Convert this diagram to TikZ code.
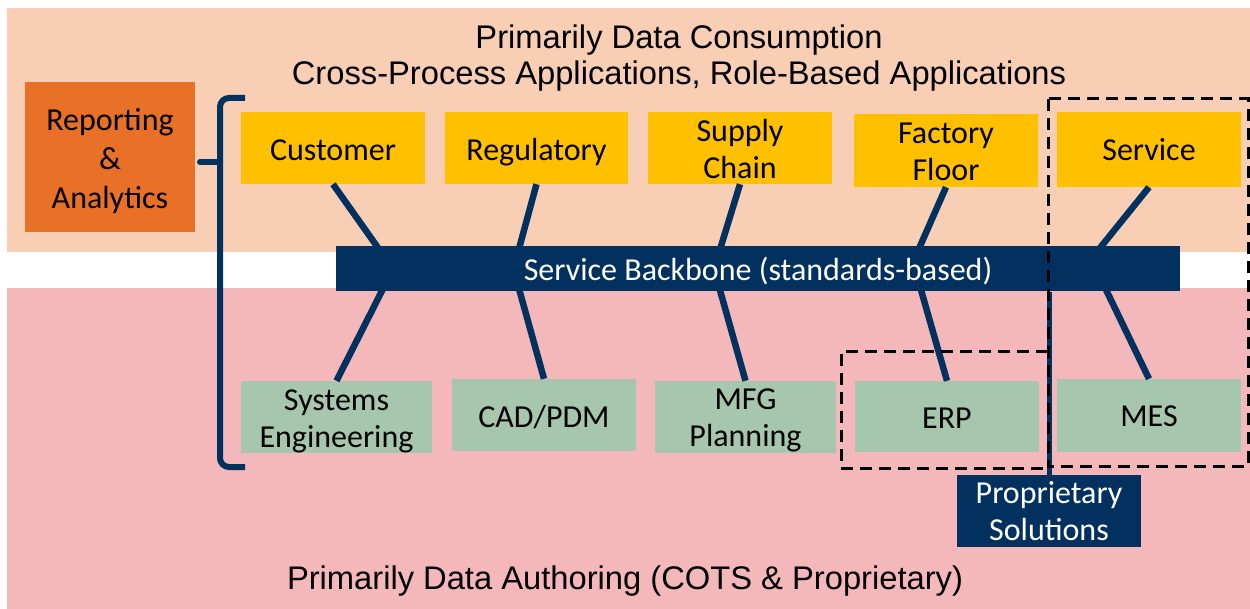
\documentclass[tikz,border=0pt]{standalone}
\usepackage{fontspec}
\setmainfont{Carlito}
\newfontfamily\arialf{Liberation Sans}
\definecolor{peach}{HTML}{F8CFB4}
\definecolor{pinkbg}{HTML}{F4B8BA}
\definecolor{orangebox}{HTML}{E97127}
\definecolor{yellowbox}{HTML}{FFC000}
\definecolor{greenbox}{HTML}{A7C6AE}
\definecolor{navy}{HTML}{03315F}
\newcommand\bt[2][-10pt]{\raisebox{#1}[0pt][0pt]{\begin{tabular}{@{}c@{}}#2\end{tabular}}}
\tikzset{
  box/.style={rectangle, inner sep=0pt, font=\fontsize{32}{37}\selectfont},
  topbox/.style={box, fill=yellowbox},
  botbox/.style={box, fill=greenbox},
  link/.style={draw=navy, line width=6.5pt},
  dashbox/.style={draw=black, line width=3pt, dash pattern=on 12pt off 7pt},
  title/.style={align=center, font=\arialf\fontsize{32.7}{36.5}\selectfont}
}
\begin{document}
\begin{tikzpicture}[x=1pt,y=-1pt]
\useasboundingbox (0,0) rectangle (1250,609);
% bands
\fill[peach] (7,8) rectangle (1250,252);
\fill[pinkbg] (7,288) rectangle (1250,609);
% titles
\node[title] (ttl) at (679,58) {Primarily Data Consumption\\Cross-Process Applications, Role-Based Applications};
\node[title] (btl) at (625,581) {Primarily Data Authoring (COTS \& Proprietary)};
% nodes
\node[box, fill=orangebox, minimum width=170pt, minimum height=150pt, font=\fontsize{32}{39}\selectfont] (rep) at (110,157) {\bt[-11pt]{Reporting\\\&\\Analytics}};
\node[topbox, minimum width=184pt, minimum height=72pt] (cust) at (333,148) {\bt[-11pt]{Customer}};
\node[topbox, minimum width=183pt, minimum height=72pt] (reg) at (536.5,148) {\bt[-11pt]{Regulatory}};
\node[topbox, minimum width=184pt, minimum height=72pt] (sup) at (740,148) {\bt[-10.5pt]{Supply\\Chain}};
\node[topbox, minimum width=184pt, minimum height=73pt] (fac) at (946,150.5) {\bt[-10pt]{Factory\\Floor}};
\node[topbox, minimum width=184pt, minimum height=75pt] (svc) at (1149,149.5) {\bt[-9.5pt]{Service}};
\node[botbox, minimum width=191pt, minimum height=72pt] (sys) at (336.5,417) {\bt[-11pt]{Systems\\Engineering}};
\node[botbox, minimum width=184pt, minimum height=72pt] (cad) at (544,415) {\bt[-11pt]{CAD/PDM}};
\node[botbox, minimum width=181pt, minimum height=72pt] (mfg) at (745.5,417) {\bt[-10pt]{MFG\\Planning}};
\node[botbox, minimum width=184pt, minimum height=71pt] (erp) at (947,416.5) {\bt[-10.5pt]{ERP}};
\node[botbox, minimum width=184pt, minimum height=73pt] (mes) at (1149,415.5) {\bt[-9.5pt]{MES}};
% hubs behind the backbone
\coordinate (h1) at (393,269);
\coordinate (h2) at (513.5,269);
\coordinate (h3) at (714,269);
\coordinate (h4t) at (910,269);
\coordinate (h4b) at (915,269);
\coordinate (h5t) at (1083,269);
\coordinate (h5b) at (1096,269);
\draw[link] (cust.south) -- (h1) -- (sys.north);
\draw[link] (reg.south) -- (h2) -- (cad.north);
\draw[link] (sup.south) -- (h3) -- (mfg.north);
\draw[link] (fac.south) -- (h4t);
\draw[link] (h4b) -- (erp.north);
\draw[link] (svc.south) -- (h5t);
\draw[link] (h5b) -- (mes.north);
% backbone
\node[box, fill=navy, text=white, minimum width=844pt, minimum height=45pt] (bar) at (758,269) {\bt[-10pt]{Service Backbone (standards-based)}};
% bracket
\coordinate (brT) at (245,98);
\coordinate (brB) at (245,467);
\coordinate (nub) at (200,162);
\draw[draw=navy, line width=6pt, rounded corners=9pt] (brT) -- (220,98) -- (220,467) -- (brB);
\draw[draw=navy, line width=6pt, line cap=round] (nub) -- (nub -| 220,0);
% proprietary solutions
\node[box, fill=navy, text=white, minimum width=184pt, minimum height=72pt] (prop) at (1049,511) {\bt[-10pt]{Proprietary\\Solutions}};
\draw[draw=navy, line width=5pt] (prop.north) -- (prop.north |- bar.south);
% dashed groups
\draw[dashbox] (1048,99) rectangle (1248,466);
\draw[dashbox] (1048,352) -- (841,352) -- (841,468) -- (1048,468);
\end{tikzpicture}
\end{document}
